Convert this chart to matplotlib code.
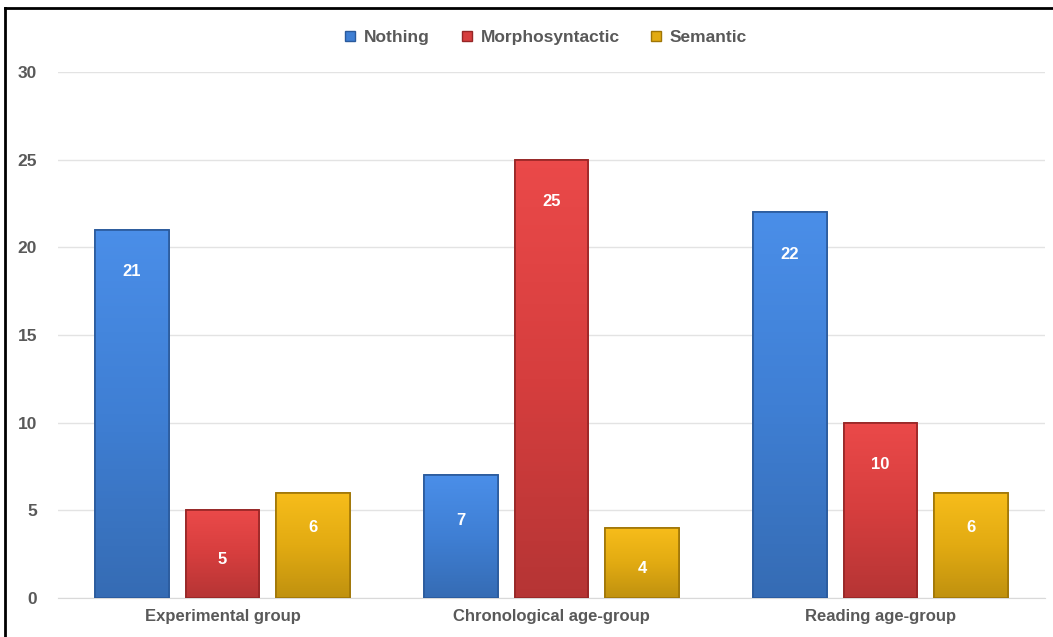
import numpy as np
import matplotlib.pyplot as plt
from matplotlib.colors import LinearSegmentedColormap, to_rgb
from matplotlib.lines import Line2D

# --- Data ---
groups = ["Experimental group", "Chronological age-group", "Reading age-group"]
series = ["Nothing", "Morphosyntactic", "Semantic"]
nothing = [21, 7, 22]
morpho = [5, 25, 10]
semantic = [6, 4, 6]
values = [nothing, morpho, semantic]
colors = ["#3f7fd4", "#d63e3e", "#e2ab12"]
edges = ["#2a5a9c", "#962626", "#a07606"]

plt.rcParams['font.family'] = ['Liberation Sans', 'DejaVu Sans']

fig = plt.figure(figsize=(10.53, 6.37), dpi=100)
ax = fig.add_axes([58 / 1053, 39 / 637, 987 / 1053, 526 / 637])

x = np.arange(len(groups))
width = 0.224
step = 0.276


def shaded_bar(ax, xc, h, color, edge):
    # bar with a soft vertical gradient to mimic the bevelled look
    bars = ax.bar(xc, h, width, color=color, edgecolor=edge, linewidth=1.2, zorder=3)
    base = np.array(to_rgb(color))
    light = np.clip(base * 1.06 + 0.03, 0, 1)
    dark = base * 0.85
    cmap = LinearSegmentedColormap.from_list("g", [dark, base, light])
    grad = np.linspace(0, 1, 100).reshape(-1, 1)
    im = ax.imshow(grad, cmap=cmap, extent=[xc - width / 2, xc + width / 2, 0, h],
                   origin='lower', aspect='auto', zorder=3)
    im.set_clip_path(bars[0])
    ax.bar(xc, h, width, color='none', edgecolor=edge, linewidth=1.2, zorder=4)


for i, (vals, c, e) in enumerate(zip(values, colors, edges)):
    for j, v in enumerate(vals):
        xc = x[j] + (i - 1) * step
        shaded_bar(ax, xc, v, c, e)
        # label inside the bar, near the top for tall bars
        if v >= 10:
            ypos = v - 2.4
        elif v >= 6:
            ypos = v - 2.0 if v == 6 else v - 2.6
        else:
            ypos = v / 2 - 0.3
        ax.text(xc, ypos, str(v), ha='center', va='center', color='white',
                fontsize=12, fontweight='bold', zorder=5)

ax.set_xlim(-0.5, 2.5)
ax.set_ylim(0, 30)
ax.set_yticks(range(0, 31, 5))
ax.set_xticks(x)
ax.set_xticklabels(groups, fontsize=12, fontweight='bold', color='#595959')
ax.tick_params(axis='y', labelsize=12.5, labelcolor='#595959', length=0, pad=15)
ax.tick_params(axis='x', length=0, pad=8)
for lab in ax.get_yticklabels():
    lab.set_fontweight('bold')
ax.grid(axis='y', color='#e3e3e3', linewidth=1, zorder=0)
ax.set_axisbelow(True)
for s in ['top', 'right', 'left']:
    ax.spines[s].set_visible(False)
ax.spines['bottom'].set_color('#d9d9d9')

handles = [Line2D([], [], marker='s', linestyle='none', markersize=7,
                  markerfacecolor=c, markeredgecolor=e) for c, e in zip(colors, edges)]
fig.legend(handles, series, loc='center', bbox_to_anchor=(0.513, 1 - 37 / 637),
           ncol=3, frameon=False, handletextpad=-0.2, columnspacing=1.1,
           prop={'size': 12.5, 'weight': 'bold'}, labelcolor='#595959')

# frame line on the left and top edges
fig.add_artist(Line2D([5 / 1053, 5 / 1053], [0, 1 - 8 / 637], color='black', lw=2,
                      transform=fig.transFigure))
fig.add_artist(Line2D([5 / 1053, 1], [1 - 8 / 637, 1 - 8 / 637], color='black', lw=2,
                      transform=fig.transFigure))

fig.savefig("out.png", dpi=100)
